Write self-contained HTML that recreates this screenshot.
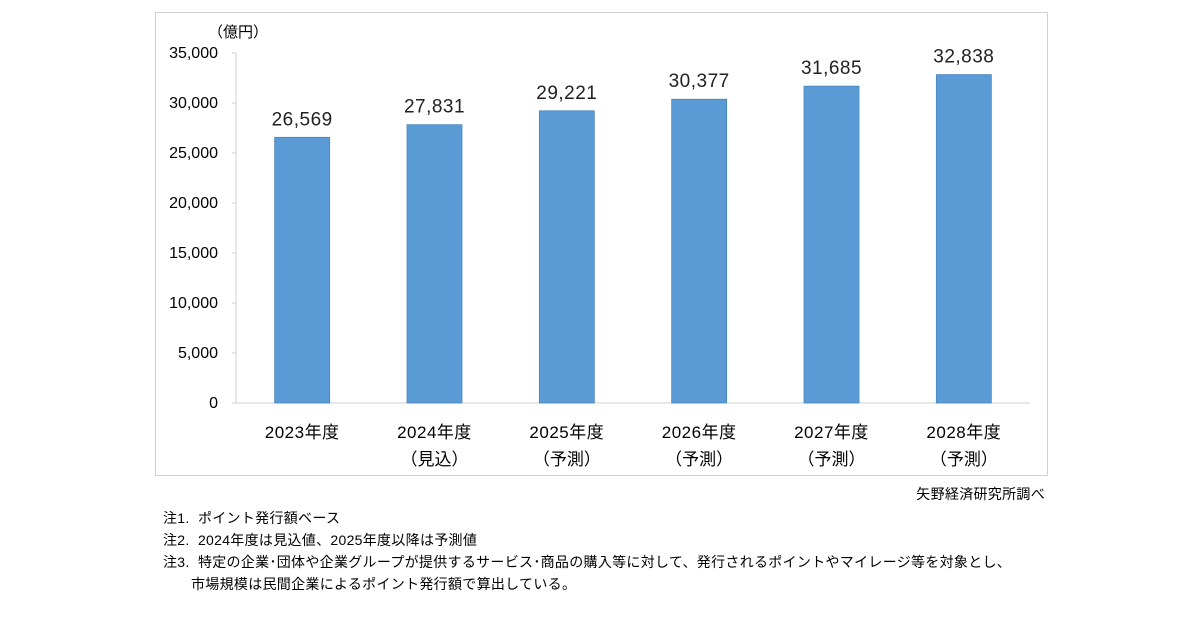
<!DOCTYPE html>
<html><head><meta charset="utf-8"><style>
body{margin:0;background:#fff;width:1200px;height:630px;overflow:hidden;font-family:"Liberation Sans","Noto Sans CJK JP",sans-serif;}
#frame{position:absolute;left:155px;top:12px;width:893px;height:464px;border:1px solid #d0d0d0;box-sizing:border-box;}
.note{position:absolute;font-size:14px;color:#000;white-space:nowrap;letter-spacing:0.3px;}
</style></head><body>
<div id="frame"></div>
<svg id="chart" width="1200" height="630" style="position:absolute;left:0;top:0"></svg>
<div class="note" style="right:155px;top:484px">矢野経済研究所調べ</div>
<div class="note" style="left:163px;top:508px">注1.&nbsp; ポイント発行額ベース</div>
<div class="note" style="left:163px;top:530px">注2.&nbsp; 2024年度は見込値、2025年度以降は予測値</div>
<div class="note" style="left:163px;top:552px">注3.&nbsp; 特定の企業･団体や企業グループが提供するサービス･商品の購入等に対して、発行されるポイントやマイレージ等を対象とし、</div>
<div class="note" style="left:191px;top:574px">市場規模は民間企業によるポイント発行額で算出している。</div>
<script>
const categories=["2023年度","2024年度","2025年度","2026年度","2027年度","2028年度"];
const subLabels=["","（見込）","（予測）","（予測）","（予測）","（予測）"];
const values=[26569,27831,29221,30377,31685,32838];
const yTicks=[0,5000,10000,15000,20000,25000,30000,35000];
const NS="http://www.w3.org/2000/svg";
const svg=document.getElementById('chart');
const x0=236,x1=1030,yb=403,yt=53,ymax=35000;
const band=(x1-x0)/categories.length;
const y=v=>yb-(v/ymax)*(yb-yt);
const xc=i=>x0+band*(i+0.5);
function mk(t,a,txt){const e=document.createElementNS(NS,t);for(const k in a)e.setAttribute(k,a[k]);if(txt!==undefined)e.textContent=txt;svg.appendChild(e);return e;}
const ax=mk('line',{x1:x0,y1:yt,x2:x0,y2:yb,stroke:'#d0d0d0'});


const bx=mk('line',{x1:x0-4,y1:yb,x2:x1,y2:yb,stroke:'#d0d0d0'});


yTicks.forEach(t=>{
  mk('line',{x1:x0-4,y1:y(t),x2:x0,y2:y(t),stroke:'#d0d0d0'});
  const l=mk('text',{x:x0-18,y:y(t)+5,'text-anchor':'end','font-size':'16',fill:'#000'},t.toLocaleString('en-US'));
  
  
});
const u=mk('text',{x:208,y:37,'font-size':'15',fill:'#000'},'（億円）');


const bw=55;
values.forEach((v,i)=>{
  const r=mk('rect',{x:xc(i)-bw/2,y:y(v),width:bw,height:yb-y(v),fill:'#5b9bd5',stroke:'#4a86bd','stroke-width':'0.8'});
  
  
  const t=mk('text',{x:xc(i),y:y(v)-12,'text-anchor':'middle','font-size':'19',fill:'#222','letter-spacing':'0.5'},v.toLocaleString('en-US'));
  
  
  const c=mk('text',{x:xc(i),y:438,'text-anchor':'middle','font-size':'17',fill:'#000','letter-spacing':'0.5'},categories[i]);
  
  
  if(subLabels[i]){
    const s=mk('text',{x:xc(i),y:465,'text-anchor':'middle','font-size':'17',fill:'#000'},subLabels[i]);
    
    
  }
});
</script>
</body></html>
